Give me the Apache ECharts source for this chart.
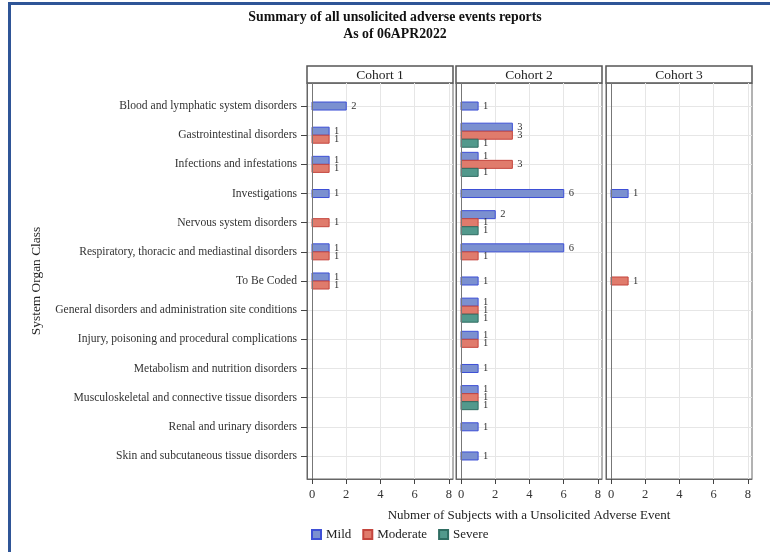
<!DOCTYPE html>
<html>
<head>
<meta charset="utf-8">
<script src="https://cdn.jsdelivr.net/npm/echarts@6/dist/echarts.min.js"></script>
<style>
  html, body { margin: 0; padding: 0; background: #fff; }
  #container { width: 770px; height: 552px; }
</style>
</head>
<body>
<div id="container"></div>
<script>
var categories = [
    'Blood and lymphatic system disorders',
    'Gastrointestinal disorders',
    'Infections and infestations',
    'Investigations',
    'Nervous system disorders',
    'Respiratory, thoracic and mediastinal disorders',
    'To Be Coded',
    'General disorders and administration site conditions',
    'Injury, poisoning and procedural complications',
    'Metabolism and nutrition disorders',
    'Musculoskeletal and connective tissue disorders',
    'Renal and urinary disorders',
    'Skin and subcutaneous tissue disorders'
];
var cohorts = ['Cohort 1', 'Cohort 2', 'Cohort 3'];
var severities = ['Mild', 'Moderate', 'Severe'];
var xTicks = [0, 2, 4, 6, 8];

// 0 = no events of that grade
var cohort1Mild     = [2, 1, 1, 1, 0, 1, 1, 0, 0, 0, 0, 0, 0];
var cohort1Moderate = [0, 1, 1, 0, 1, 1, 1, 0, 0, 0, 0, 0, 0];
var cohort1Severe   = [0, 0, 0, 0, 0, 0, 0, 0, 0, 0, 0, 0, 0];
var cohort2Mild     = [1, 3, 1, 6, 2, 6, 1, 1, 1, 1, 1, 1, 1];
var cohort2Moderate = [0, 3, 3, 0, 1, 1, 0, 1, 1, 0, 1, 0, 0];
var cohort2Severe   = [0, 1, 1, 0, 1, 0, 0, 1, 0, 0, 1, 0, 0];
var cohort3Mild     = [0, 0, 0, 1, 0, 0, 0, 0, 0, 0, 0, 0, 0];
var cohort3Moderate = [0, 0, 0, 0, 0, 0, 1, 0, 0, 0, 0, 0, 0];
var cohort3Severe   = [0, 0, 0, 0, 0, 0, 0, 0, 0, 0, 0, 0, 0];

var cohortData = [
    [cohort1Mild, cohort1Moderate, cohort1Severe],
    [cohort2Mild, cohort2Moderate, cohort2Severe],
    [cohort3Mild, cohort3Moderate, cohort3Severe]
];

var FONT = '"Liberation Serif", "Times New Roman", serif';
var fillColors = ['#7b90d0', '#e07b6c', '#52998c'];
var lineColors = ['#3d4fd6', '#c4453d', '#2f6d62'];

var frameX = [307, 456, 606];
var frameW = 146;
var frameTop = 83;
var frameH = 396;

/*==========================================
 * 计算每个分类中实际出现的柱子的位置（SAS式居中簇）
 */
function buildSeriesData(ci, si) {
    var sets = cohortData[ci];
    var out = [];
    for (var c = 0; c < categories.length; c++) {
        var v = sets[si][c];
        if (!v) continue;
        var n = 0, rank = 0;
        for (var k = 0; k < sets.length; k++) {
            if (sets[k][c]) {
                if (k < si) rank++;
                n++;
            }
        }
        out.push([v, c, rank, n]);
    }
    return out;
}

function renderBar(si) {
    return function(params, api) {
        var v = api.value(0), c = api.value(1), k = api.value(2), n = api.value(3);
        var p0 = api.coord([0, c]);
        var p1 = api.coord([v, c]);
        var h = Math.abs(api.size([0, 1])[1]) * 0.275;
        var y = p0[1] + (k - n / 2) * h;
        return {
            type: 'group',
            children: [{
                type: 'rect',
                shape: { x: p0[0], y: y, width: p1[0] - p0[0], height: h },
                style: { fill: fillColors[si], stroke: lineColors[si], lineWidth: 1 }
            }, {
                type: 'text',
                style: {
                    text: String(v),
                    x: p1[0] + 5,
                    y: y + h / 2,
                    verticalAlign: 'middle',
                    align: 'left',
                    font: '10.5px ' + FONT,
                    fill: '#333'
                }
            }]
        };
    };
}

var grids = [], xAxes = [], yAxes = [], series = [], graphics = [];

for (var ci = 0; ci < cohorts.length; ci++) {
    grids.push({
        left: frameX[ci], top: frameTop, width: frameW, height: frameH,
        show: true, borderColor: '#666', borderWidth: 1, backgroundColor: '#fff'
    });
    xAxes.push({
        type: 'value', gridIndex: ci,
        min: -0.292, max: 8.234,
        axisLine: { show: true, onZero: false, lineStyle: { color: '#666' } },
        axisTick: { show: true, length: 5, customValues: xTicks, lineStyle: { color: '#444' } },
        axisLabel: { customValues: xTicks, fontFamily: FONT, fontSize: 12.5, color: '#333', margin: 9 },
        splitLine: { show: true, lineStyle: { color: '#e6e6e6' } },
        name: ci === 1 ? 'Nubmer of Subjects with a Unsolicited Adverse Event' : '',
        nameLocation: 'middle', nameGap: 30,
        nameTextStyle: { fontFamily: FONT, fontSize: 13, color: '#222' }
    });
    yAxes.push({
        type: 'value', gridIndex: ci, inverse: true,
        min: -0.79, max: 12.79,
        axisLine: { show: true, onZero: false, lineStyle: { color: '#666' } },
        axisTick: {
            show: ci === 0, length: 6, inside: false,
            customValues: categories.map(function(d, i) { return i; }),
            lineStyle: { color: '#444' }
        },
        axisLabel: {
            show: ci === 0,
            customValues: categories.map(function(d, i) { return i; }),
            formatter: function(v) { return categories[Math.round(v)] || ''; },
            fontFamily: FONT, fontSize: 11.6, color: '#333', margin: 10
        },
        splitLine: { show: true, lineStyle: { color: '#e6e6e6' } },
        name: ci === 0 ? 'System Organ Class' : '',
        nameLocation: 'middle', nameGap: 264, nameRotate: 90,
        nameTextStyle: { fontFamily: FONT, fontSize: 13.4, color: '#222' }
    });

    for (var si = 0; si < severities.length; si++) {
        var s = {
            name: severities[si],
            type: 'custom',
            xAxisIndex: ci, yAxisIndex: ci,
            encode: { x: 0, y: 1 },
            itemStyle: { color: fillColors[si], borderColor: lineColors[si], borderWidth: 1 },
            renderItem: renderBar(si),
            data: buildSeriesData(ci, si),
            z: 3
        };
        if (si === 0) {
            s.markLine = {
                silent: true, symbol: 'none', label: { show: false },
                lineStyle: { color: '#777', type: 'solid', width: 1 },
                data: [{ xAxis: 0 }]
            };
        }
        series.push(s);
    }

    // 面板表头
    graphics.push({
        type: 'rect',
        shape: { x: frameX[ci], y: 66, width: frameW, height: 17 },
        style: { fill: '#fff', stroke: '#555', lineWidth: 1.5 }
    });
    graphics.push({
        type: 'text',
        x: frameX[ci] + frameW / 2, y: 75,
        style: {
            text: cohorts[ci], align: 'center', verticalAlign: 'middle',
            font: '13.5px ' + FONT, fill: '#222'
        }
    });
}

// 外部蓝色边框
graphics.push({
    type: 'line', shape: { x1: 8, y1: 3.5, x2: 770, y2: 3.5 },
    style: { stroke: '#2f5597', lineWidth: 3 }
});
graphics.push({
    type: 'line', shape: { x1: 9.5, y1: 2, x2: 9.5, y2: 552 },
    style: { stroke: '#2f5597', lineWidth: 3 }
});

var myChart = echarts.init(document.getElementById('container'));
myChart.setOption({
    animation: false,
    backgroundColor: '#fff',
    title: {
        text: 'Summary of all unsolicited adverse events reports\nAs of 06APR2022',
        left: 390, top: 4, textAlign: 'center',
        textStyle: { fontFamily: FONT, fontSize: 13.8, fontWeight: 'bold', color: '#111', lineHeight: 17 }
    },
    legend: {
        data: severities,
        left: 306, top: 523,
        icon: 'rect', itemWidth: 9, itemHeight: 9, itemGap: 11,
        textStyle: { fontFamily: FONT, fontSize: 13, color: '#222' }
    },
    grid: grids,
    xAxis: xAxes,
    yAxis: yAxes,
    series: series,
    graphic: graphics
});
</script>
</body>
</html>
